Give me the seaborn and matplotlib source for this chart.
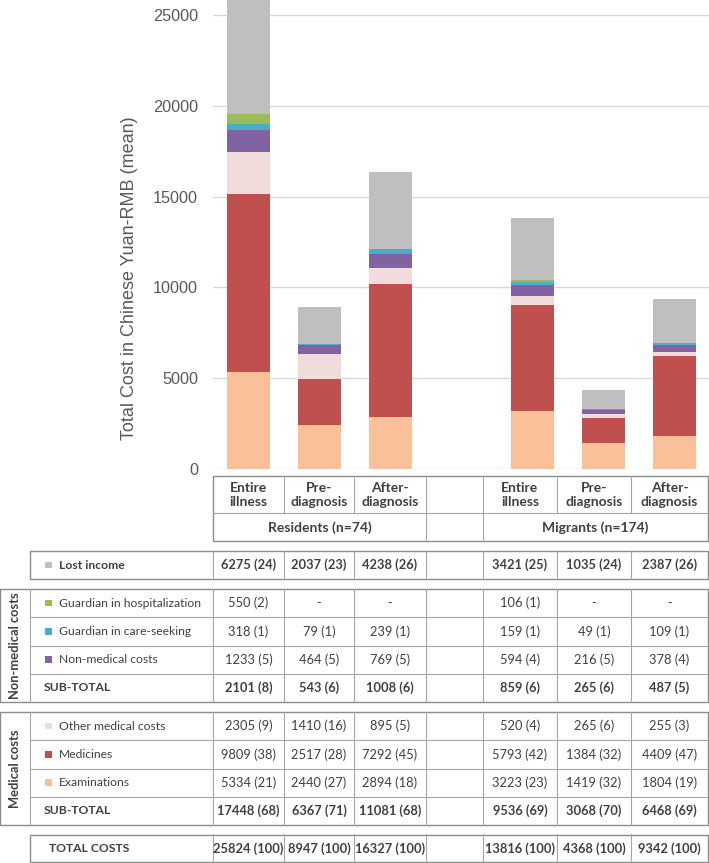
import numpy as np
import pandas as pd
import matplotlib.pyplot as plt
import seaborn as sns
from matplotlib.patches import Rectangle

# Columns of the chart and the table (one empty slot between the two groups)
groups = ['Residents (n=74)', 'Migrants (n=174)']
phases = ['Entire\nillness', 'Pre-\ndiagnosis', 'After-\ndiagnosis']
slots = ['R-entire', 'R-pre', 'R-after', 'gap', 'M-entire', 'M-pre', 'M-after']
bar_slots = ['R-entire', 'R-pre', 'R-after', 'M-entire', 'M-pre', 'M-after']

# Mean cost (RMB) and share of total (%), residents then migrants
lost_income = [6275, 2037, 4238, 3421, 1035, 2387]
lost_income_pct = [24, 23, 26, 25, 24, 26]
guardian_hosp = [550, None, None, 106, None, None]
guardian_hosp_pct = [2, None, None, 1, None, None]
guardian_care = [318, 79, 239, 159, 49, 109]
guardian_care_pct = [1, 1, 1, 1, 1, 1]
non_medical = [1233, 464, 769, 594, 216, 378]
non_medical_pct = [5, 5, 5, 4, 5, 4]
non_med_subtotal = [2101, 543, 1008, 859, 265, 487]
non_med_subtotal_pct = [8, 6, 6, 6, 6, 5]
other_medical = [2305, 1410, 895, 520, 265, 255]
other_medical_pct = [9, 16, 5, 4, 6, 3]
medicines = [9809, 2517, 7292, 5793, 1384, 4409]
medicines_pct = [38, 28, 45, 42, 32, 47]
examinations = [5334, 2440, 2894, 3223, 1419, 1804]
examinations_pct = [21, 27, 18, 23, 32, 19]
med_subtotal = [17448, 6367, 11081, 9536, 3068, 6468]
med_subtotal_pct = [68, 71, 68, 69, 70, 69]
total_costs = [25824, 8947, 16327, 13816, 4368, 9342]
total_costs_pct = [100, 100, 100, 100, 100, 100]

# Stack order, bottom to top
stack = [
    ('Examinations', examinations, '#f9c09a'),
    ('Medicines', medicines, '#c0504d'),
    ('Other medical costs', other_medical, '#f2dcdb'),
    ('Non-medical costs', non_medical, '#8064a2'),
    ('Guardian in care-seeking', guardian_care, '#4bacc6'),
    ('Guardian in hospitalization', guardian_hosp, '#9bbb59'),
    ('Lost income', lost_income, '#bfbfbf'),
]
colors = {name: col for name, _, col in stack}

sns.set_style('white')
plt.rcParams['font.family'] = ['Liberation Sans', 'DejaVu Sans']

W, H = 709, 863
fig = plt.figure(figsize=(W / 100, H / 100), dpi=100)

# ---------------- table (drawn in pixel coordinates) ----------------
tab = fig.add_axes([0, 0, 1, 1])
tab.set_xlim(0, W)
tab.set_ylim(H, 0)
tab.axis('off')

TFONT = ['Lato', 'DejaVu Sans']
TXT = '#404040'
LINE = '#a6a6a6'
cols = [213, 284, 354, 426, 483, 557, 631, 708]
val_idx = [0, 1, 2, 4, 5, 6]
RH = 28.25


def box(x0, x1, y0, y1):
    tab.add_patch(Rectangle((x0, y0), x1 - x0, y1 - y0, fill=False,
                            ec='#8c8c8c', lw=1.0))


def hline(y, x0, x1):
    tab.plot([x0, x1], [y, y], color=LINE, lw=0.8)


def vline(x, y0, y1):
    tab.plot([x, x], [y0, y1], color=LINE, lw=0.8)


def fmt(v, p):
    return '-' if v is None else f'{v} ({p})'


def value_row(y0, label, vals, pcts, marker=None, bold=False, label_x=59):
    yc = y0 + RH / 2
    w = 'bold' if bold else 'normal'
    if marker is not None:
        tab.add_patch(Rectangle((45, yc - 3.3), 6.6, 6.6, color=marker, lw=0))
    tab.text(label_x, yc, label, ha='left', va='center', fontsize=8.7,
             family=TFONT, color=TXT, weight=w)
    for k, v, p in zip(val_idx, vals, pcts):
        xc = (cols[k] + cols[k + 1]) / 2
        tab.text(xc, yc, fmt(v, p), ha='center', va='center', fontsize=9.3,
                 family=TFONT, color=TXT, weight=w)
    for x in cols[:-1]:
        vline(x, y0, y0 + RH)


# header
box(cols[0], cols[-1], 476, 541)
hline(513, cols[0], cols[-1])
for x in cols[1:-1]:
    vline(x, 476, 513)
vline(cols[3], 513, 541)
vline(cols[4], 513, 541)
for k, ph in zip(val_idx, phases * 2):
    tab.text((cols[k] + cols[k + 1]) / 2, 495, ph, ha='center', va='center',
             fontsize=10, family=TFONT, color=TXT, weight='bold', linespacing=1.15)
tab.text((cols[0] + cols[3]) / 2, 527.5, groups[0], ha='center', va='center',
         fontsize=10, family=TFONT, color=TXT, weight='bold')
tab.text((cols[4] + cols[7]) / 2, 527.5, groups[1], ha='center', va='center',
         fontsize=10, family=TFONT, color=TXT, weight='bold')

# lost income
y = 551
box(30, cols[-1], y, y + RH)
value_row(y, 'Lost income', lost_income, lost_income_pct,
          marker=colors['Lost income'], bold=True)

# non-medical block
y = 589
box(0, cols[-1], y, y + 4 * RH)
vline(30, y, y + 4 * RH)
rows = [('Guardian in hospitalization', guardian_hosp, guardian_hosp_pct, False),
        ('Guardian in care-seeking', guardian_care, guardian_care_pct, False),
        ('Non-medical costs', non_medical, non_medical_pct, False),
        ('SUB-TOTAL', non_med_subtotal, non_med_subtotal_pct, True)]
for i, (lab, v, p, b) in enumerate(rows):
    y0 = y + i * RH
    if i:
        hline(y0, 30, cols[-1])
    if b:
        value_row(y0, lab, v, p, bold=True, label_x=44)
    else:
        value_row(y0, lab, v, p, marker=colors[lab])
tab.text(15, y + 2 * RH, 'Non-medical costs', rotation=90, ha='center',
         va='center', fontsize=9.3, family=TFONT, color=TXT, weight='bold')

# medical block
y = 712
box(0, cols[-1], y, y + 4 * RH)
vline(30, y, y + 4 * RH)
rows = [('Other medical costs', other_medical, other_medical_pct, False),
        ('Medicines', medicines, medicines_pct, False),
        ('Examinations', examinations, examinations_pct, False),
        ('SUB-TOTAL', med_subtotal, med_subtotal_pct, True)]
for i, (lab, v, p, b) in enumerate(rows):
    y0 = y + i * RH
    if i:
        hline(y0, 30, cols[-1])
    if b:
        value_row(y0, lab, v, p, bold=True, label_x=44)
    else:
        value_row(y0, lab, v, p, marker=colors[lab])
tab.text(15, y + 2 * RH, 'Medical costs', rotation=90, ha='center',
         va='center', fontsize=9.3, family=TFONT, color=TXT, weight='bold')

# total
y = 835
box(30, cols[-1], y, y + 27)
value_row(y - 0.6, 'TOTAL COSTS', total_costs, total_costs_pct, bold=True, label_x=49)

# ---------------- stacked bars ----------------
ax = fig.add_axes([212.8 / W, (H - 469.3) / H, 497 / W, 469.3 / H])

layers = []
cum = np.zeros(len(bar_slots))
for name, vals, col in stack:
    cum = cum + np.array([0 if v is None else v for v in vals], dtype=float)
    layers.append((name, cum.copy(), col))

# draw cumulative totals from the top layer down so each one covers the next
for name, top, col in reversed(layers):
    d = pd.DataFrame({'slot': bar_slots, 'cost': top})
    sns.barplot(data=d, x='slot', y='cost', order=slots, color=col,
                width=0.61, saturation=1, errorbar=None, linewidth=0, ax=ax)

ax.set_xlim(-0.5, 6.5)
ax.set_ylim(0, 25810)
ax.set_yticks([0, 5000, 10000, 15000, 20000, 25000])
ax.set_xticks([])
ax.set_xlabel('')
ax.yaxis.grid(True, color='#d9d9d9', lw=1.0)
ax.set_axisbelow(True)
sns.despine(ax=ax, left=True, bottom=True)
ax.tick_params(axis='y', length=0, pad=10.5, labelsize=11.7, labelcolor='#595959')
ax.set_ylabel('Total Cost in Chinese Yuan-RMB (mean)', fontsize=13, color='#595959')
ax.yaxis.set_label_coords(-0.1505, 0.4076)

fig.savefig('out.png', dpi=100)
